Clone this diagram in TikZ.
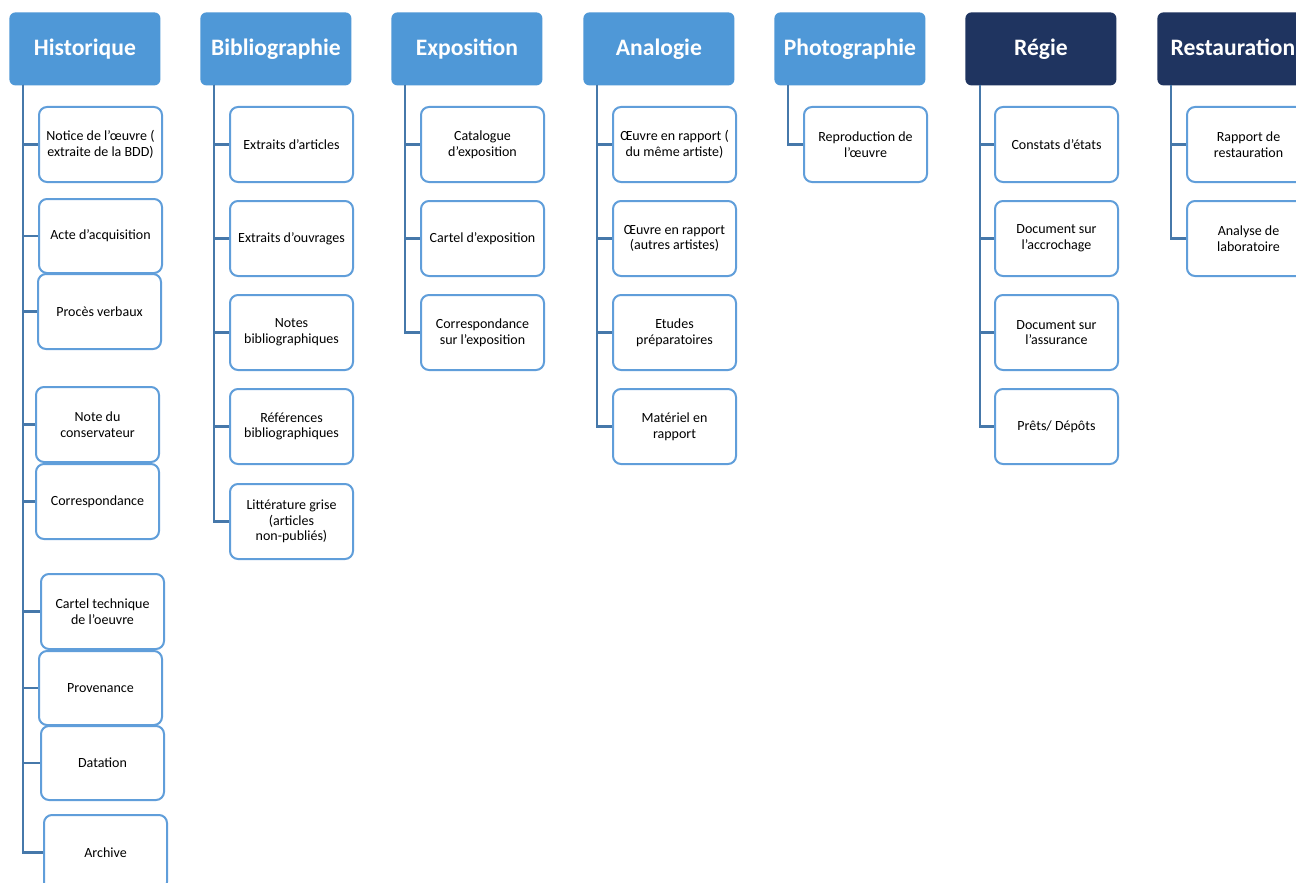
\documentclass[tikz,border=0pt]{standalone}
\usepackage{fontspec}
\setmainfont{Carlito}
\definecolor{hblue}{RGB}{79,152,215}
\definecolor{hnavy}{RGB}{31,52,96}
\definecolor{cborder}{RGB}{96,158,218}
\definecolor{trunkc}{RGB}{70,120,170}
\begin{document}
\begin{tikzpicture}[x=0.5pt,y=-0.5pt,
  hdr/.style={fill=hblue, rounded corners=3pt, minimum width=75.5pt, minimum height=36.5pt,
    text=white, font=\bfseries\fontsize{11.8}{14}\selectfont, anchor=north west, inner sep=0pt,
    text height=9pt, text depth=2pt},
  hdrdark/.style={hdr, fill=hnavy},
  kid/.style={draw=cborder, line width=1pt, rounded corners=4pt, fill=white,
    minimum width=61.5pt, minimum height=37.5pt, align=center, inner sep=0pt,
    font=\fontsize{7}{7.8}\selectfont, anchor=north west},
  conn/.style={draw=trunkc, line width=1.2pt}]
\useasboundingbox (0,0) rectangle (1296,883);
\fill[white] (0,0) rectangle (1296,883);

% headers
\node[hdr] (h1) at (9,12) {Historique};
\node[hdr] (h2) at (200,12) {Bibliographie};
\node[hdr] (h3) at (391,12) {Exposition};
\node[hdr] (h4) at (583,12) {Analogie};
\node[hdr] (h5) at (774,12) {Photographie};
\node[hdrdark] (h6) at (965,12) {Régie};
\node[hdrdark] (h7) at (1157,12) {Restauration};

% trunk coordinates
\coordinate (t1) at (23,85);
\coordinate (t2) at (214,85);
\coordinate (t3) at (405,85);
\coordinate (t4) at (597,85);
\coordinate (t5) at (788,85);
\coordinate (t6) at (980,85);
\coordinate (t7) at (1171,85);

% Historique
\node[kid] (a1) at (38,106) {Notice de l’œuvre (\\ extraite de la BDD)};
\node[kid, minimum height=37pt] (a2) at (38,198) {Acte d’acquisition};
\node[kid] (a3) at (37,273) {Procès verbaux};
\node[kid] (a4) at (35,386) {Note du\\ conservateur};
\node[kid] (a5) at (35,463) {Correspondance};
\node[kid] (a6) at (40,573) {Cartel technique\\ de l’oeuvre};
\node[kid, minimum height=37pt] (a7) at (38,650) {Provenance};
\node[kid, minimum height=37pt] (a8) at (40,725) {Datation};
\node[kid] (a9) at (43,814) {Archive};

% Bibliographie
\node[kid] (b1) at (229,106) {Extraits d’articles};
\node[kid] (b2) at (229,200) {Extraits d’ouvrages};
\node[kid] (b3) at (229,294) {Notes\\ bibliographiques};
\node[kid] (b4) at (229,388) {Références\\ bibliographiques};
\node[kid] (b5) at (229,483) {Littérature grise\\ (articles\\ non-publiés)};

% Exposition
\node[kid] (c1) at (420,106) {Catalogue\\ d’exposition};
\node[kid] (c2) at (420,200) {Cartel d’exposition};
\node[kid] (c3) at (420,294) {Correspondance\\ sur l’exposition};

% Analogie
\node[kid] (d1) at (612,106) {Œuvre en rapport (\\ du même artiste)};
\node[kid] (d2) at (612,200) {Œuvre en rapport\\ (autres artistes)};
\node[kid] (d3) at (612,294) {Etudes\\ préparatoires};
\node[kid] (d4) at (612,388) {Matériel en\\ rapport};

% Photographie
\node[kid] (e1) at (803,106) {Reproduction de\\ l’œuvre};

% Régie
\node[kid] (f1) at (994,106) {Constats d’états};
\node[kid] (f2) at (994,200) {Document sur\\ l’accrochage};
\node[kid] (f3) at (994,294) {Document sur\\ l’assurance};
\node[kid] (f4) at (994,388) {Prêts/ Dépôts};

% Restauration
\node[kid] (g1) at (1186,106) {Rapport de\\ restauration};
\node[kid] (g2) at (1186,200) {Analyse de\\ laboratoire};

% connectors
\foreach \c in {a1,a2,a3,a4,a5,a6,a7,a8,a9} \draw[conn] (t1) |- (\c.west);
\foreach \c in {b1,b2,b3,b4,b5} \draw[conn] (t2) |- (\c.west);
\foreach \c in {c1,c2,c3} \draw[conn] (t3) |- (\c.west);
\foreach \c in {d1,d2,d3,d4} \draw[conn] (t4) |- (\c.west);
\foreach \c in {e1} \draw[conn] (t5) |- (\c.west);
\foreach \c in {f1,f2,f3,f4} \draw[conn] (t6) |- (\c.west);
\foreach \c in {g1,g2} \draw[conn] (t7) |- (\c.west);
\end{tikzpicture}
\end{document}
